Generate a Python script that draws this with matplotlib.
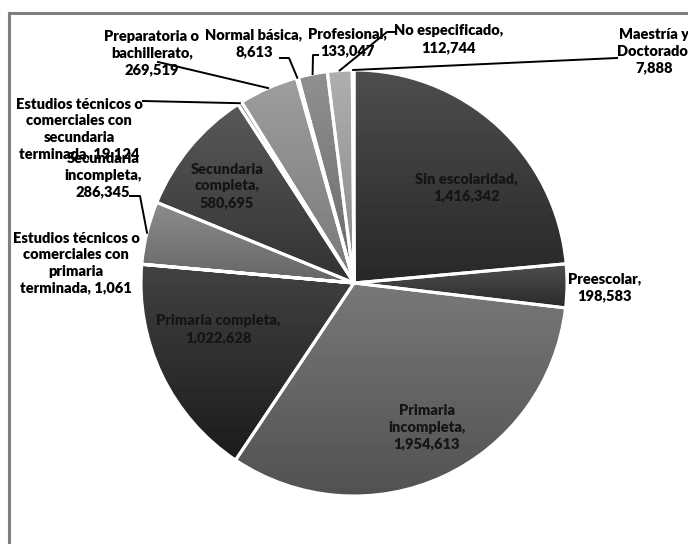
import numpy as np
import matplotlib.pyplot as plt
from matplotlib.patches import Wedge
from matplotlib.lines import Line2D

W, H = 688, 544

categorias = ["Sin escolaridad", "Preescolar", "Primaria incompleta", "Primaria completa",
              "Estudios técnicos o comerciales con primaria terminada",
              "Secundaria incompleta", "Secundaria completa",
              "Estudios técnicos o comerciales con secundaria terminada",
              "Preparatoria o bachillerato", "Normal básica", "Profesional",
              "No especificado", "Maestría y Doctorado"]
poblacion = [1416342, 198583, 1954613, 1022628, 1061, 286345, 580695,
             19124, 269519, 8613, 133047, 112744, 7888]
# label text, value goes into {}
textos = ["Sin escolaridad,\n{}", "Preescolar,\n{}", "Primaria\nincompleta,\n{}",
          "Primaria completa,\n{}",
          "Estudios técnicos o\ncomerciales con\nprimaria\nterminada, {}",
          "Secundaria\nincompleta,\n{}", "Secundaria\ncompleta,\n{}",
          "Estudios técnicos o\ncomerciales con\nsecundaria\nterminada, {}",
          "Preparatoria o\nbachillerato,\n{}", "Normal básica,\n{}", "Profesional,\n{}",
          "No especificado,\n{}", "Maestría y\nDoctorado,\n{}"]
grises = ["#3c3c3c", "#3e3e3e", "#666666", "#303030", "#8a8a8a", "#7a7a7a", "#474747",
          "#5a5a5a", "#8c8c8c", "#6a6a6a", "#7e7e7e", "#9c9c9c", "#d0d0d0"]

# label positions in pixels from the top-left corner
pos_texto = [(466, 187), (605, 287), (427, 427), (218, 329), (76, 263), (103, 175),
             (227, 186), (79, 129), (152, 53), (254, 43), (347, 42), (449, 39), (654, 51)]
dentro = [True, False, True, True, False, False, True, False, False, False, False, False, False]
# leader polylines (before reaching the slice edge)
guias = {5: [(130, 196), (140, 196)], 7: [(143, 101)], 8: [(158, 62)],
         9: [(280, 58), (289, 58)], 10: [(318, 55), (313, 55)],
         11: [(396, 32), (387, 32)], 12: [(617, 58)]}


def px(x, y):
    return x, H - y


plt.rcParams['font.family'] = ['Lato', 'DejaVu Sans']

fig = plt.figure(figsize=(W / 100, H / 100), dpi=100)
ax = fig.add_axes([0, 0, 1, 1])

centro = px(354, 283)
radio = 213
explode = [0.025 if i == 2 else 0 for i in range(len(poblacion))]

wedges, _ = ax.pie(poblacion, colors=grises, startangle=90, counterclock=False,
                   center=centro, radius=radio, explode=explode,
                   wedgeprops=dict(linewidth=0))

# vertical shading on every slice
for w, c in zip(wedges, grises):
    ext = w.get_path().get_extents()
    base = int(c[1:3], 16) / 255
    grad = np.linspace(min(base + 0.07, 1), max(base - 0.08, 0), 64)[:, None]
    grad = np.repeat(grad, 2, axis=1)
    im = ax.imshow(grad, extent=[ext.x0, ext.x1, ext.y0, ext.y1], cmap='gray',
                   vmin=0, vmax=1, origin='upper', aspect='auto', zorder=1.5,
                   interpolation='bilinear')
    im.set_clip_path(w)
    ax.add_patch(Wedge(w.center, w.r, w.theta1, w.theta2, facecolor='none',
                       edgecolor='white', linewidth=2.2, zorder=2))

for i, w in enumerate(wedges):
    etiqueta = textos[i].format(f"{poblacion[i]:,}")
    x, y = px(*pos_texto[i])
    ax.text(x, y, etiqueta, ha='center', va='center', fontsize=10.5, fontweight='heavy',
            color='#151515' if dentro[i] else 'black', linespacing=1.33, zorder=4)
    if i in guias:
        ang = np.deg2rad((w.theta1 + w.theta2) / 2)
        borde = (w.center[0] + w.r * np.cos(ang), w.center[1] + w.r * np.sin(ang))
        puntos = [px(*p) for p in guias[i]] + [borde]
        xs, ys = zip(*puntos)
        ax.plot(xs, ys, color='black', linewidth=1.4, zorder=3)

ax.set_xlim(0, W)
ax.set_ylim(0, H)
ax.set_aspect('auto')
ax.axis('off')

# chart frame (left and top edges)
fig.add_artist(Line2D([9 / W, 9 / W], [0, 1 - 13 / H], color='#808080', linewidth=2.2))
fig.add_artist(Line2D([9 / W, 1], [1 - 13 / H, 1 - 13 / H], color='#808080', linewidth=2.2))

fig.savefig('out.png', dpi=100, facecolor='white')
